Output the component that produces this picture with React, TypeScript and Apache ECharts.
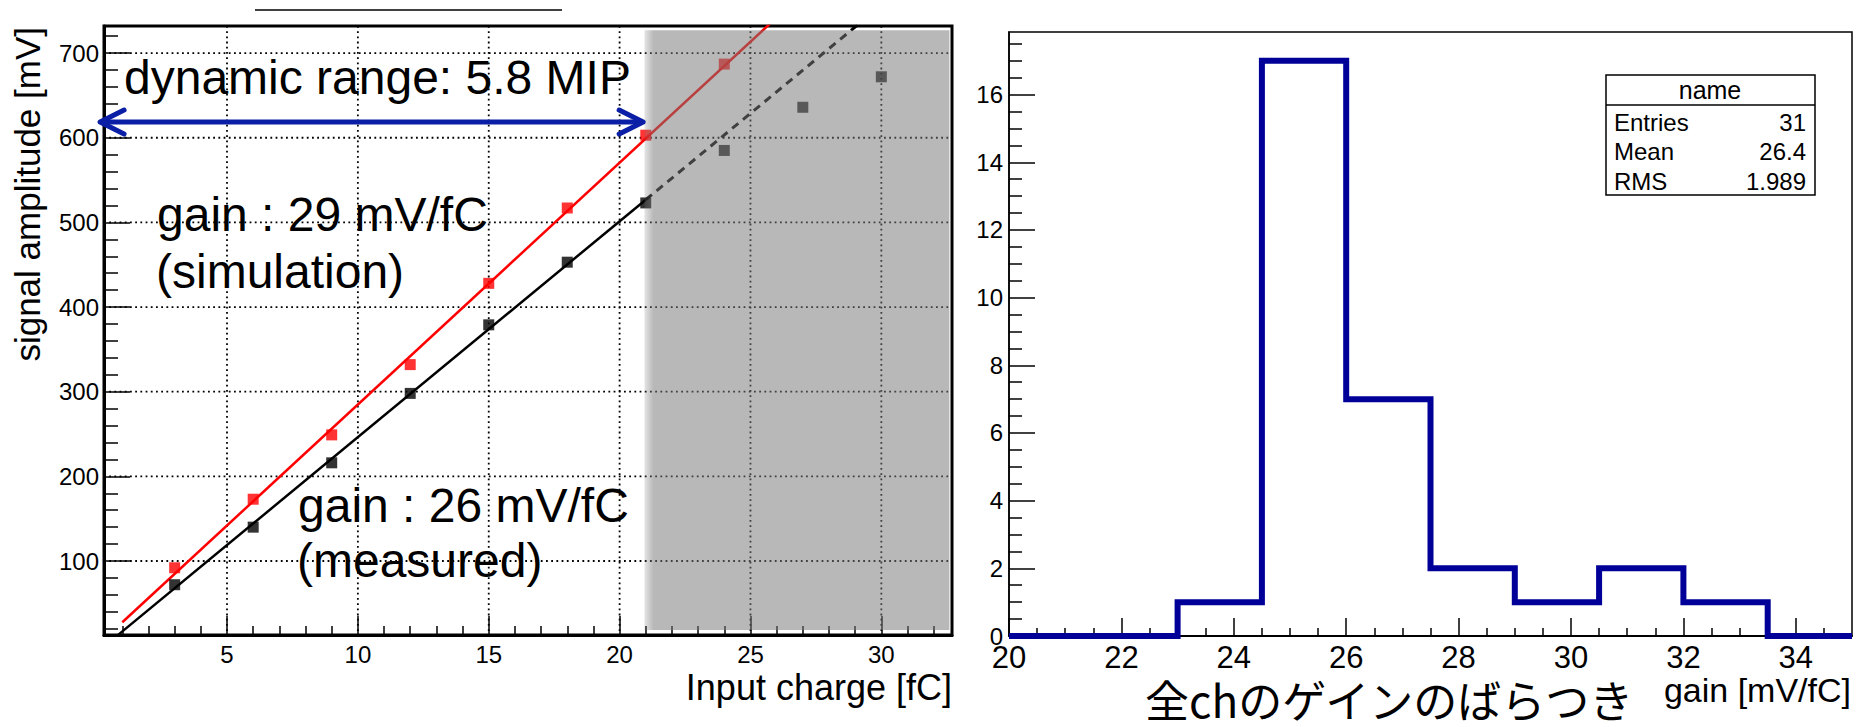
import React, { useEffect, useRef } from 'react';
import * as echarts from 'echarts';

// ---------- left panel data ----------
const simCharge = [3, 6, 9, 12, 15, 18, 21, 24];
const simAmp = [92, 173, 249, 332, 428, 517, 603, 687];
const measCharge = [3, 6, 9, 12, 15, 18, 21, 24, 27, 30];
const measAmp = [72, 140, 216, 298, 379, 453, 523, 585, 636, 672];
const simFit = [28.57, -0.86]; // slope, intercept
const simFitRange = [1.0, 26.0];
const measFit = [25.5, -8.7];
const measFitSolidRange = [0.84, 21];
const measFitDashedRange = [21, 29.5];
const saturationRegion = [20.95, 18.5, 32.6, 727]; // x0, y0, x1, y1
const dynamicRangeArrow = [0.15, 20.9, 618.5]; // x from, x to, level

const leftXRange = [0.3, 32.7];
const leftYRange = [12.6, 732];
const leftXMajor = [5, 10, 15, 20, 25, 30];
const leftYMajor = [100, 200, 300, 400, 500, 600, 700];

// ---------- right panel data ----------
const binEdges = [20, 21.5, 23, 24.5, 26, 27.5, 29, 30.5, 32, 33.5, 35];
const binCounts = [0, 0, 1, 17, 7, 2, 1, 2, 1, 0];
const rightXRange = [20, 35];
const rightYRange = [0, 17.85];
const rightXMajor = [20, 22, 24, 26, 28, 30, 32, 34];
const rightYMajor = [0, 2, 4, 6, 8, 10, 12, 14, 16];
const statTitle = 'name';
const statLabels = ['Entries', 'Mean', 'RMS'];
const statValues = ['31', '26.4', '1.989'];

const FONT = 'Liberation Sans, Arial, Helvetica, sans-serif';
const JFONT = 'Noto Sans CJK JP, sans-serif';

function steps(from: number, to: number, step: number, skip: number[]): number[] {
  const out: number[] = [];
  for (let i = 0; ; i++) {
    const v = Math.round((from + i * step) * 1000) / 1000;
    if (v > to + 1e-9) break;
    if (!skip.some((s) => Math.abs(s - v) < 1e-9)) out.push(v);
  }
  return out;
}

const leftXMinor = steps(1, 32, 1, leftXMajor);
const leftYMinor = steps(20, 720, 20, leftYMajor);
const rightXMinor = steps(20.5, 34.5, 0.5, rightXMajor);
const rightYMinor = steps(0.5, 17.5, 0.5, rightYMajor);

function fitPoints(fit: number[], range: number[]) {
  return range.map((x) => [x, fit[0] * x + fit[1]]);
}

function histPoints() {
  const pts: number[][] = [];
  for (let i = 0; i < binCounts.length; i++) {
    pts.push([binEdges[i], binCounts[i]]);
    pts.push([binEdges[i + 1], binCounts[i]]);
  }
  return pts;
}

function txt(text: string, x: number, y: number, fontSize: number, align = 'left', extra: any = {}) {
  return {
    type: 'text',
    x,
    y,
    z: 100,
    silent: true,
    ...extra,
    style: {
      text,
      fontSize,
      fontFamily: extra.fontFamily || FONT,
      fill: '#000',
      align,
      textAlign: align,
      verticalAlign: 'middle',
      textVerticalAlign: 'middle',
    },
  };
}

function majorAxis(grid: number, range: number[], ticks: number[], tickLen: number, labelSize: number, margin: number, lineW: number) {
  return {
    type: 'value',
    gridIndex: grid,
    min: range[0],
    max: range[1],
    axisLine: { show: true, onZero: false, lineStyle: { color: '#000', width: lineW } },
    axisTick: { show: true, inside: true, length: tickLen, customValues: ticks, lineStyle: { color: '#000', width: 1.5 } },
    axisLabel: { show: true, customValues: ticks, fontSize: labelSize, fontFamily: FONT, color: '#000', margin },
    splitLine: { show: false },
    minorTick: { show: false },
    minorSplitLine: { show: false },
  };
}

function minorAxis(grid: number, range: number[], ticks: number[], tickLen: number, position: string) {
  return {
    type: 'value',
    gridIndex: grid,
    position,
    min: range[0],
    max: range[1],
    axisLine: { show: false, onZero: false },
    axisTick: { show: true, inside: true, length: tickLen, customValues: ticks, lineStyle: { color: '#000', width: 1.5 } },
    axisLabel: { show: false },
    splitLine: { show: false },
  };
}

export default function App() {
  const ref = useRef<HTMLDivElement>(null);
  useEffect(() => {
    if (!ref.current) return;
    const chart = echarts.init(ref.current, null, { renderer: 'svg' });

    const gridLineData = [
      ...leftXMajor.map((v) => [v, 0]),
      ...leftYMajor.map((v) => [v, 1]),
    ];
    const dotted = { stroke: '#000', lineWidth: 1.8, lineDash: [1.8, 3.4] };

    const option: any = {
      animation: false,
      backgroundColor: '#fff',
      grid: [
        { left: 104, top: 26, width: 848, height: 609, show: true, borderColor: '#000', borderWidth: 3, backgroundColor: 'transparent', containLabel: false, outerBoundsMode: 'none' },
        { left: 1009, top: 32, width: 843, height: 604, show: true, borderColor: '#000', borderWidth: 1.5, backgroundColor: 'transparent', containLabel: false, outerBoundsMode: 'none' },
      ],
      xAxis: [
        { ...majorAxis(0, leftXRange, leftXMajor, 19, 24, 7, 3), position: 'bottom' },
        minorAxis(0, leftXRange, leftXMinor, 9, 'bottom'),
        { ...majorAxis(1, rightXRange, rightXMajor, 18, 31, 6, 2), position: 'bottom' },
        minorAxis(1, rightXRange, rightXMinor, 8, 'bottom'),
      ],
      yAxis: [
        { ...majorAxis(0, leftYRange, leftYMajor, 26, 24, 5, 3), position: 'left' },
        minorAxis(0, leftYRange, leftYMinor, 14, 'left'),
        { ...majorAxis(1, rightYRange, rightYMajor, 26, 24, 6, 1.5), position: 'left' },
        minorAxis(1, rightYRange, rightYMinor, 13, 'left'),
      ],
      series: [
        {
          type: 'custom',
          name: 'grid',
          xAxisIndex: 0,
          yAxisIndex: 0,
          z: 1,
          silent: true,
          data: gridLineData,
          renderItem: (params: any, api: any) => {
            const cs = params.coordSys;
            const v = api.value(0);
            const o = api.value(1);
            if (o === 0) {
              const x = api.coord([v, leftYRange[0]])[0];
              return { type: 'line', shape: { x1: x, y1: cs.y, x2: x, y2: cs.y + cs.height }, style: dotted };
            }
            const y = api.coord([leftXRange[0], v])[1];
            return { type: 'line', shape: { x1: cs.x, y1: y, x2: cs.x + cs.width, y2: y }, style: dotted };
          },
        },
        {
          type: 'line',
          name: 'fit sim',
          xAxisIndex: 0,
          yAxisIndex: 0,
          z: 3,
          showSymbol: false,
          silent: true,
          data: fitPoints(simFit, simFitRange),
          lineStyle: { color: '#ff0000', width: 2.5 },
        },
        {
          type: 'line',
          name: 'fit meas',
          xAxisIndex: 0,
          yAxisIndex: 0,
          z: 3,
          showSymbol: false,
          silent: true,
          data: fitPoints(measFit, measFitSolidRange),
          lineStyle: { color: '#000', width: 2.5 },
        },
        {
          type: 'line',
          name: 'fit meas ext',
          xAxisIndex: 0,
          yAxisIndex: 0,
          z: 3,
          showSymbol: false,
          silent: true,
          data: fitPoints(measFit, measFitDashedRange),
          lineStyle: { color: '#000', width: 3, type: [8, 6] },
        },
        {
          type: 'scatter',
          name: 'simulation',
          xAxisIndex: 0,
          yAxisIndex: 0,
          z: 4,
          symbol: 'rect',
          symbolSize: 11,
          itemStyle: { color: '#ff0000' },
          data: simCharge.map((x, i) => [x, simAmp[i]]),
        },
        {
          type: 'scatter',
          name: 'measured',
          xAxisIndex: 0,
          yAxisIndex: 0,
          z: 4,
          symbol: 'rect',
          symbolSize: 11,
          itemStyle: { color: '#000' },
          data: measCharge.map((x, i) => [x, measAmp[i]]),
        },
        {
          type: 'custom',
          name: 'saturation',
          xAxisIndex: 0,
          yAxisIndex: 0,
          z: 10,
          silent: true,
          clip: false,
          data: [saturationRegion],
          renderItem: (params: any, api: any) => {
            const p0 = api.coord([api.value(0), api.value(1)]);
            const p1 = api.coord([api.value(2), api.value(3)]);
            return {
              type: 'rect',
              shape: { x: p0[0], y: p1[1], width: p1[0] - p0[0], height: p0[1] - p1[1] },
              style: {
                fill: new echarts.graphic.LinearGradient(0, 0, 1, 0, [
                  { offset: 0, color: 'rgba(121,121,121,0.2)' },
                  { offset: 0.03, color: 'rgba(121,121,121,0.53)' },
                  { offset: 1, color: 'rgba(121,121,121,0.53)' },
                ]),
              },
            };
          },
        },
        {
          type: 'custom',
          name: 'dynamic range',
          xAxisIndex: 0,
          yAxisIndex: 0,
          z: 11,
          silent: true,
          clip: false,
          data: [dynamicRangeArrow],
          renderItem: (params: any, api: any) => {
            const p0 = api.coord([api.value(0), api.value(2)]);
            const p1 = api.coord([api.value(1), api.value(2)]);
            const ah = 24;
            const aw = 12;
            const st = { stroke: '#0a1fa6', lineWidth: 5, fill: 'none', lineJoin: 'round', lineCap: 'round' };
            return {
              type: 'group',
              children: [
                { type: 'line', shape: { x1: p0[0] + 2, y1: p0[1], x2: p1[0] - 2, y2: p1[1] }, style: { ...st, lineCap: 'butt' } },
                { type: 'polyline', shape: { points: [[p0[0] + ah, p0[1] - aw], [p0[0], p0[1]], [p0[0] + ah, p0[1] + aw]] }, style: st },
                { type: 'polyline', shape: { points: [[p1[0] - ah, p1[1] - aw], [p1[0], p1[1]], [p1[0] - ah, p1[1] + aw]] }, style: st },
              ],
            };
          },
        },
        {
          type: 'line',
          name: 'gain histogram',
          xAxisIndex: 2,
          yAxisIndex: 2,
          z: 3,
          showSymbol: false,
          silent: true,
          data: histPoints(),
          lineStyle: { color: '#000099', width: 6, join: 'miter' },
        },
      ],
      graphic: [
        { type: 'line', z: 100, silent: true, shape: { x1: 255, y1: 10, x2: 562, y2: 10 }, style: { stroke: '#000', lineWidth: 1.5 } },
        txt('dynamic range: 5.8 MIP', 124, 77, 48),
        txt('gain : 29 mV/fC', 157, 214, 48),
        txt('(simulation)', 156, 271, 48),
        txt('gain : 26 mV/fC', 298, 505, 48),
        txt('(measured)', 297, 560, 48),
        txt('signal amplitude [mV]', 27, 27, 35, 'right', { rotation: Math.PI / 2 }),
        txt('Input charge [fC]', 952, 687, 36, 'right'),
        txt('gain [mV/fC]', 1851, 690, 34, 'right'),
        txt('全chのゲインのばらつき', 1145, 699, 44, 'left', { fontFamily: JFONT }),
        { type: 'rect', z: 100, silent: true, shape: { x: 1606, y: 75, width: 209, height: 120 }, style: { fill: '#fff', stroke: '#000', lineWidth: 1.5 } },
        { type: 'line', z: 101, silent: true, shape: { x1: 1606, y1: 105, x2: 1815, y2: 105 }, style: { stroke: '#000', lineWidth: 1.5 } },
        txt(statTitle, 1710, 90, 25, 'center'),
        ...statLabels.map((l, i) => txt(l, 1614, 122 + i * 29.5, 24, 'left')),
        ...statValues.map((v, i) => txt(v, 1806, 122 + i * 29.5, 24, 'right')),
      ],
    };

    chart.setOption(option);
    return () => chart.dispose();
  }, []);

  return (
    <div
      ref={ref}
      style={{ position: 'absolute', left: 0, top: 0, width: 1866, height: 727, background: '#fff' }}
    />
  );
}
